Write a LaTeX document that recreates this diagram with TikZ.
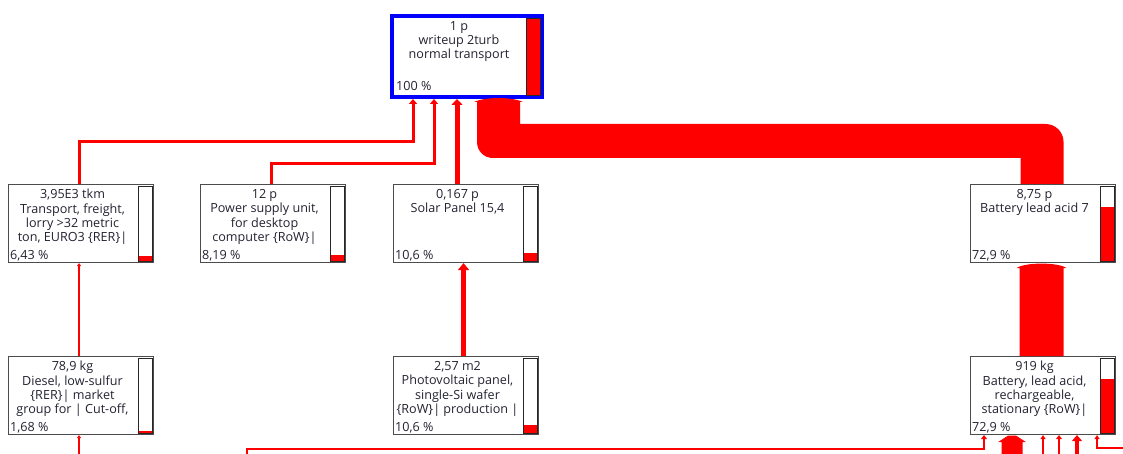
\documentclass[tikz,border=0pt]{standalone}
\usepackage{fontspec}
\setmainfont{Open Sans}
\usetikzlibrary{arrows.meta,calc}
\definecolor{txt}{RGB}{35,35,50}
\definecolor{flowred}{RGB}{255,0,0}
\definecolor{topblue}{RGB}{0,0,255}
\newcommand\mkbar[2]{%
  \draw[barframe] ($(#1.north east)+(-16,2)$) rectangle ($(#1.south east)+(-2,-2)$);
  \fill[flowred] ($(#1.south east)+(-2.5,-2.5)$) rectangle ($(#1.south east)+(-15.5,{-2.5-#2*73})$);
  \draw[barframe,fill=none] ($(#1.north east)+(-16,2)$) rectangle ($(#1.south east)+(-2,-2)$);
}
\begin{document}
\begin{tikzpicture}[x=1pt,y=-1pt,
  box/.style={draw=black!70,line width=1.1pt,fill=white,minimum width=145pt,minimum height=78pt,anchor=north west,inner sep=0pt},
  topbox/.style={draw=topblue,line width=4pt,fill=white,minimum width=150pt,minimum height=81pt,anchor=north west,inner sep=0pt},
  lbl/.style={font=\fontsize{12.6}{14.4}\selectfont,text=txt,align=center,anchor=north,inner sep=0pt},
  pct/.style={font=\fontsize{12.6}{14.4}\selectfont,text=txt,anchor=base west,inner sep=0pt},
  barframe/.style={draw=black!85,line width=0.9pt,fill=white},
  flow/.style={draw=flowred,line width=#1},
]
\useasboundingbox (0,0) rectangle (1123,454);
\fill[white] (0,0) rectangle (1123,454);

% boxes
\node[topbox] (top) at (390,14) {};
\node[box] (A) at (8,184) {};
\node[box] (B) at (200,184) {};
\node[box] (C) at (393,184) {};
\node[box] (D) at (970,184) {};
\node[box] (E) at (8,356) {};
\node[box] (F) at (393,356) {};
\node[box] (G) at (970,356) {};

% labels
\node[lbl] (tl) at ($(top.north west)+(69,7)$) {1 p\\writeup 2turb\\normal transport};
\node[pct] (tp) at ($(top.south west)+(6,-8)$) {100 \%};
\fill[flowred] ($(top.north east)+(-18,4)$) rectangle ($(top.south east)+(-4,-4)$);
\draw[barframe,fill=none] ($(top.north east)+(-18,4)$) rectangle ($(top.south east)+(-4,-4)$);

\node[lbl] (al) at ($(A.north west)+(64.5,5)$) {3,95E3 tkm\\Transport, freight,\\lorry >32 metric\\ton, EURO3 \{RER\}|};
\node[pct] (ap) at ($(A.south west)+(2,-4)$) {6,43 \%};
\mkbar{A}{0.0643}

\node[lbl] (bl) at ($(B.north west)+(64.5,5)$) {12 p\\Power supply unit,\\for desktop\\computer \{RoW\}|};
\node[pct] (bp) at ($(B.south west)+(2,-4)$) {8,19 \%};
\mkbar{B}{0.0819}

\node[lbl] (cl) at ($(C.north west)+(64.5,5)$) {0,167 p\\Solar Panel 15,4};
\node[pct] (cp) at ($(C.south west)+(2,-4)$) {10,6 \%};
\mkbar{C}{0.106}

\node[lbl] (dl) at ($(D.north west)+(64.5,5)$) {8,75 p\\Battery lead acid 7};
\node[pct] (dp) at ($(D.south west)+(2,-4)$) {72,9 \%};
\mkbar{D}{0.729}

\node[lbl] (el) at ($(E.north west)+(64.5,5)$) {78,9 kg\\Diesel, low-sulfur\\\{RER\}| market\\group for | Cut-off,};
\node[pct] (ep) at ($(E.south west)+(2,-4)$) {1,68 \%};
\mkbar{E}{0.0168}

\node[lbl] (fl) at ($(F.north west)+(64.5,5)$) {2,57 m2\\Photovoltaic panel,\\single-Si wafer\\\{RoW\}| production |};
\node[pct] (fp) at ($(F.south west)+(2,-4)$) {10,6 \%};
\mkbar{F}{0.106}

\node[lbl] (gl) at ($(G.north west)+(64.5,5)$) {919 kg\\Battery, lead acid,\\rechargeable,\\stationary \{RoW\}|};
\node[pct] (gp) at ($(G.south west)+(2,-4)$) {72,9 \%};
\mkbar{G}{0.729}

% ---- flows into top
\coordinate (ta) at ($(top.south west)+(23,0)$);
\coordinate (tb) at ($(top.south west)+(44,0)$);
\coordinate (tc) at ($(top.south west)+(67,0)$);
\draw[flow=3pt,-{Triangle[width=8pt,length=5pt]}] ($(A.north)+(-2,0)$) |- ($(ta)+(0,43)$) -- (ta);
\draw[flow=3pt,-{Triangle[width=8pt,length=5pt]}] ($(B.north)+(-2,0)$) |- ($(tb)+(0,65)$) -- (tb);
\draw[flow=5pt,-{Triangle[width=11pt,length=6pt]}] (C.north -| tc) -- (tc);

% thick band D -> top
\coordinate (b1) at ($(top.south west)+(87,3)$);
\coordinate (b2) at ($(top.south west)+(130,3)$);
\coordinate (d1) at ($(D.north)+(-22.5,0)$);
\coordinate (d2) at ($(D.north)+(20.5,0)$);
\coordinate (hTop) at ($(top.south)+(0,25)$);
\coordinate (hBot) at ($(top.south)+(0,59)$);
\fill[flowred] (b1) -- ($(b1|-hBot)+(0,-16)$)
  .. controls ($(b1|-hBot)+(0,-7)$) and ($(b1|-hBot)+(7,0)$) .. ($(b1|-hBot)+(16,0)$)
  -- (d1|-hBot) -- (d1) -- (d2) -- ($(d2|-hTop)+(0,18)$)
  .. controls ($(d2|-hTop)+(0,8)$) and ($(d2|-hTop)+(-8,0)$) .. ($(d2|-hTop)+(-18,0)$)
  -- (b2|-hTop) -- (b2) -- ($(b2)+(3,0)$)
  .. controls ($(b2)+(-8,-5.3)$) and ($(b1)+(8,-5.3)$) .. ($(b1)+(-3,0)$) -- cycle;

% ---- second level
\draw[flow=1.2pt,-{Triangle[width=4pt,length=3pt]}] ($(E.north)+(-2,0)$) -- ($(A.south)+(-2,0)$);
\draw[flow=5pt,-{Triangle[width=11pt,length=7pt]}] ($(F.north)+(-2.5,0)$) -- ($(C.south)+(-2.5,0)$);
\coordinate (g1) at ($(G.north)+(-23.5,0)$);
\coordinate (g2) at ($(G.north)+(20.5,0)$);
\fill[flowred] (g1) -- ($(g1|-D.south)+(0,5)$) -- ++(-3,0)
  .. controls ($(g1|-D.south)+(5,-1)$) and ($(g2|-D.south)+(-5,-1)$) .. ($(g2|-D.south)+(3,5)$)
  -- ($(g2|-D.south)+(0,5)$) -- (g2) -- cycle;

% ---- third level (leaving the picture)
\coordinate (eb) at ($(E.south)+(-2,20)$);
\draw[flow=1.2pt,-{Triangle[width=4pt,length=3pt]}] (eb) -- ($(E.south)+(-2,0)$);

\coordinate (x1) at (247,454);
\coordinate (x6) at (1123,448);
\coordinate (gs1) at ($(G.south west)+(14,0)$);
\coordinate (gs2) at ($(G.south west)+(42,0)$);
\coordinate (gs3) at ($(G.south west)+(73,0)$);
\coordinate (gs4) at ($(G.south west)+(89,0)$);
\coordinate (gs5) at ($(G.south west)+(107,0)$);
\coordinate (gs6) at ($(G.south west)+(127,0)$);
\draw[flow=2pt,-{Triangle[width=6pt,length=4pt]}] (x1) |- ($(gs1)+(0,14)$) -- (gs1);
\fill[flowred] ($(gs2)+(-10.5,20)$) -- ($(gs2)+(-10.5,7)$) -- ($(gs2)+(-14,7)$)
  -- ($(gs2)+(-4,0.5)$) -- ($(gs2)+(4,0.5)$) -- ($(gs2)+(14,7)$)
  -- ($(gs2)+(10.5,7)$) -- ($(gs2)+(10.5,20)$) -- cycle;
\draw[flow=1.5pt,-{Triangle[width=5pt,length=4pt]}] ($(gs3)+(0,20)$) -- (gs3);
\draw[flow=2pt,-{Triangle[width=6pt,length=4pt]}] ($(gs4)+(0,20)$) -- (gs4);
\draw[flow=4pt,-{Triangle[width=10pt,length=6pt]}] ($(gs5)+(0,20)$) -- (gs5);
\draw[flow=1.5pt,-{Triangle[width=5pt,length=4pt]}] (x6) -| (gs6);
\end{tikzpicture}
\end{document}
